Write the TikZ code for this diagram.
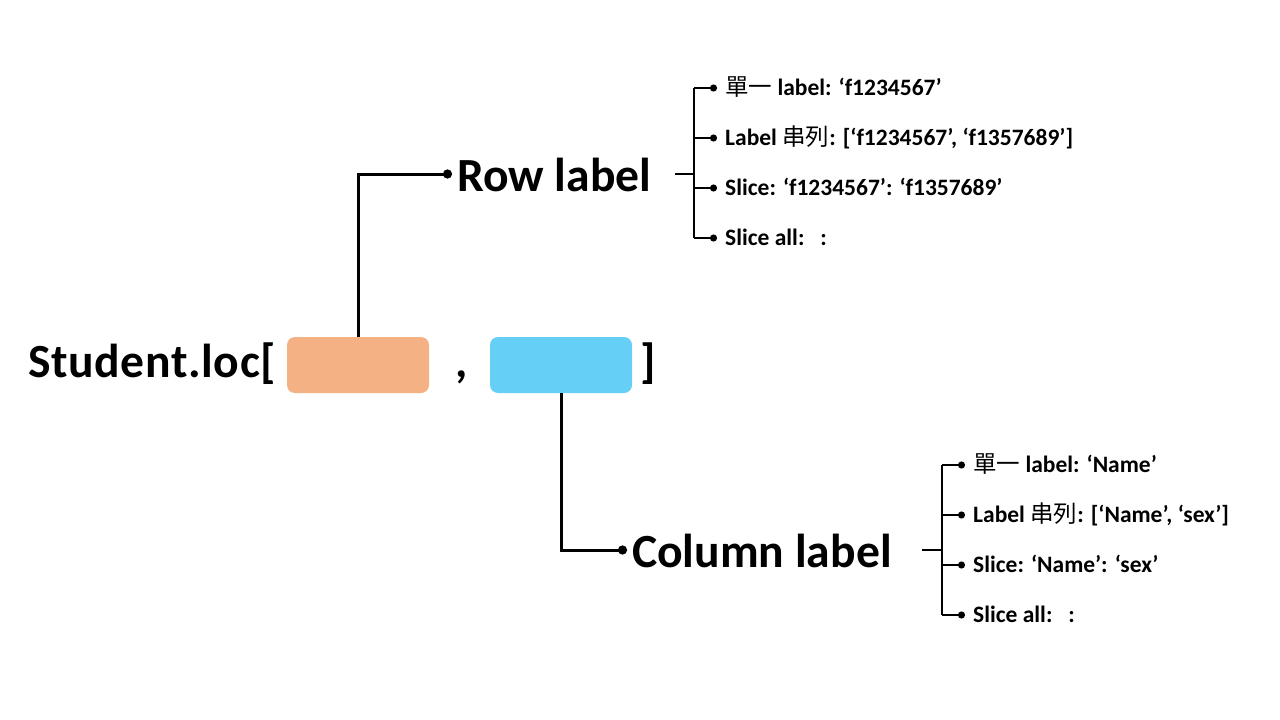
\documentclass[tikz,border=0pt]{standalone}
\usepackage{fontspec}
\setmainfont{Carlito}
\newfontfamily\cjk{Noto Sans CJK TC}
\usetikzlibrary{arrows.meta}
\definecolor{orangefill}{HTML}{F4B183}
\definecolor{bluefill}{HTML}{66CFF6}
\begin{document}
\begin{tikzpicture}[x=1pt,y=-1pt]
\tikzset{
 big/.style={font=\fontsize{47.6}{56}\selectfont\bfseries, inner sep=0pt, anchor=base west},
 item/.style={font=\fontsize{23.5}{28}\selectfont\bfseries, inner sep=0pt, anchor=base west},
 mainline/.style={line width=3pt},
 subline/.style={line width=2pt},
 dotend/.style={-{Circle[length=9pt,width=9pt]}},
 smalldot/.style={-{Circle[length=7pt,width=7pt]}},
 slot/.style={rounded corners=8pt, minimum width=142pt, minimum height=56pt, inner sep=0pt}
}
\useasboundingbox (0,0) rectangle (1280,720);
\fill[white] (0,0) rectangle (1280,720);

% main expression
\node[big] (student) at (28,377) {\addfontfeature{LetterSpace=1.3}Student.loc[};
\node[slot, fill=orangefill] (rowslot) at (358,365) {};
\node[big] (comma) at (455,377) {,};
\node[slot, fill=bluefill] (colslot) at (561,365) {};
\node[big] (close) at (640,377) {]};

% row label
\node[big] (rowlabel) at (457,191) {Row label};
\coordinate (rowdot) at (452,174);
\draw[mainline,dotend] (rowslot.north) |- (rowdot);

\coordinate (rowstub) at (675,174);
\coordinate (rowbus) at (694,174);
\coordinate (rowtop) at (694,88);
\coordinate (rowbot) at (694,238);
\draw[subline] (rowstub) -- (rowbus);
\draw[subline] (rowtop) -- (rowbot);
\coordinate (r1) at (717,88);
\coordinate (r2) at (717,138);
\coordinate (r3) at (717,188);
\coordinate (r4) at (717,238);
\draw[subline,smalldot] (rowtop) -- (r1);
\draw[subline,smalldot] (694,138) -- (r2);
\draw[subline,smalldot] (694,188) -- (r3);
\draw[subline,smalldot] (rowbot) -- (r4);
\node[item] (ri1) at (725,95.5) {{\cjk\mdseries 單一} label: ‘f1234567’};
\node[item] (ri2) at (725,145.5) {Label {\cjk\mdseries 串列}: [‘f1234567’, ‘f1357689’]};
\node[item] (ri3) at (725,195.5) {Slice: ‘f1234567’: ‘f1357689’};
\node[item] (ri4) at (725,245.5) {Slice all:\hspace{16pt}:};

% column label
\node[big] (collabel) at (632,567) {Column label};
\coordinate (coldot) at (627,550);
\draw[mainline,dotend] (colslot.south) |- (coldot);

\coordinate (colstub) at (922,550);
\coordinate (colbus) at (942,550);
\coordinate (coltop) at (942,465);
\coordinate (colbot) at (942,615);
\draw[subline] (colstub) -- (colbus);
\draw[subline] (coltop) -- (colbot);
\coordinate (c1) at (965,465);
\coordinate (c2) at (965,515);
\coordinate (c3) at (965,565);
\coordinate (c4) at (965,615);
\draw[subline,smalldot] (coltop) -- (c1);
\draw[subline,smalldot] (942,515) -- (c2);
\draw[subline,smalldot] (942,565) -- (c3);
\draw[subline,smalldot] (colbot) -- (c4);
\node[item] (ci1) at (973,472.5) {{\cjk\mdseries 單一} label: ‘Name’};
\node[item] (ci2) at (973,522.5) {Label {\cjk\mdseries 串列}: [‘Name’, ‘sex’]};
\node[item] (ci3) at (973,572.5) {Slice: ‘Name’: ‘sex’};
\node[item] (ci4) at (973,622.5) {Slice all:\hspace{16pt}:};
\end{tikzpicture}
\end{document}
